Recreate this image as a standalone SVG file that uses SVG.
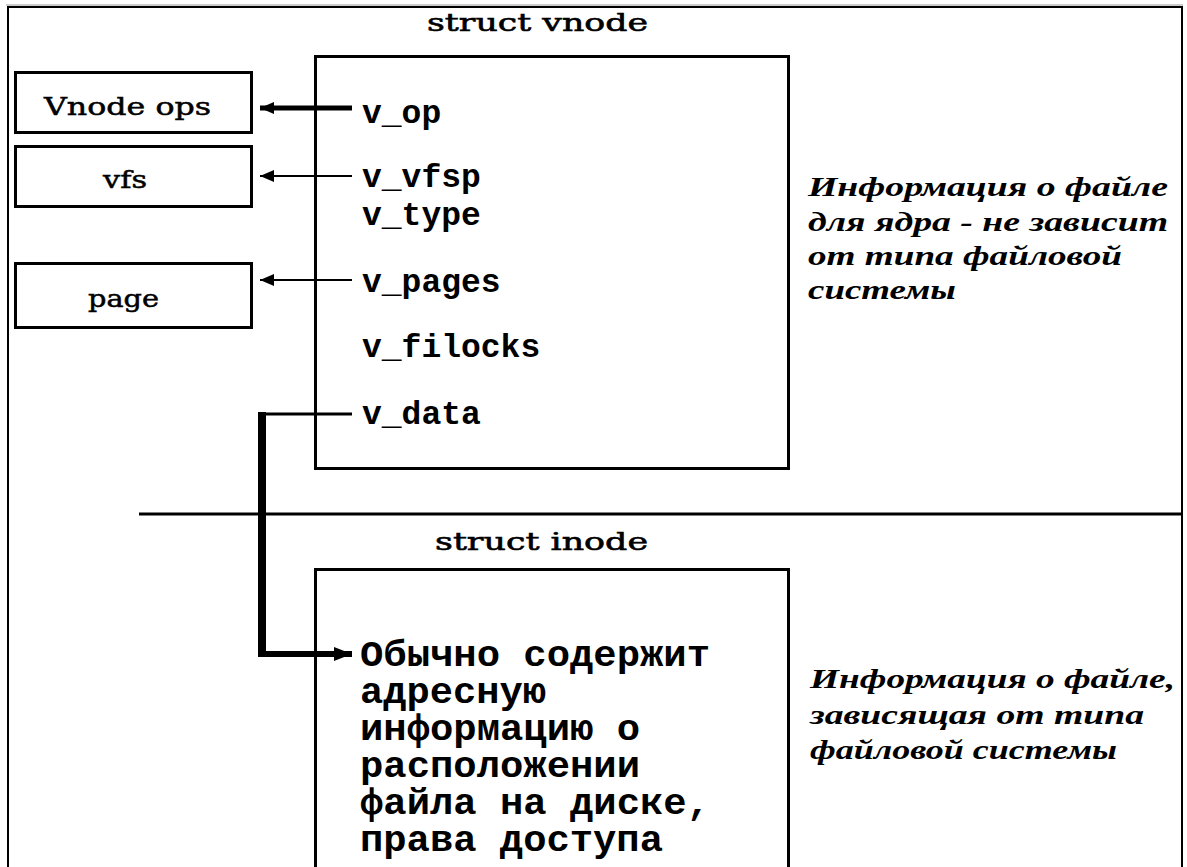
<svg xmlns="http://www.w3.org/2000/svg" width="1187" height="867" viewBox="0 0 1187 867">
<style>
.box{fill:#fff;stroke:#000;stroke-width:3}
.lbl{font-family:"DejaVu Serif","Liberation Serif",serif;font-size:24px;fill:#000;stroke:#000;stroke-width:0.5}
.fld{font-family:"Liberation Mono","Courier New",monospace;font-size:33px;font-weight:bold;fill:#000}
.cyr{font-family:"Liberation Mono","Courier New",monospace;font-size:36px;font-weight:bold;fill:#000}
.ttl{font-family:"DejaVu Serif","Liberation Serif",serif;font-size:25px;fill:#000;stroke:#000;stroke-width:0.6}
.ital{font-family:"Liberation Serif","Times New Roman",serif;font-size:27px;font-style:italic;font-weight:bold;fill:#000}
.ln{fill:none;stroke:#000}
</style>
<defs>
<marker id="ah" markerUnits="userSpaceOnUse" markerWidth="16" markerHeight="14" refX="14" refY="6" orient="auto">
<path d="M0,0 L14,6 L0,12 z" fill="#000"/>
</marker>
<marker id="ah2" markerUnits="userSpaceOnUse" markerWidth="20" markerHeight="16" refX="18" refY="7" orient="auto">
<path d="M0,0 L18,7 L0,14 z" fill="#000"/>
</marker>
</defs>
<rect width="1187" height="867" fill="#fff"/>
<g id="frame">
<line x1="6" y1="5" x2="1183" y2="5" stroke="#999" stroke-width="1"/>
<rect x="8" y="7" width="1174" height="880" fill="none" stroke="#000" stroke-width="2"/>
</g>
<g id="vnode">
<text class="ttl" x="427" y="31" textLength="221" lengthAdjust="spacingAndGlyphs">struct vnode</text>
<rect class="box" x="315.5" y="56.5" width="473" height="412"/>
<text class="fld" x="362" y="123">v_op</text>
<text class="fld" x="362" y="187">v_vfsp</text>
<text class="fld" x="362" y="225">v_type</text>
<text class="fld" x="362" y="292">v_pages</text>
<text class="fld" x="362" y="357">v_filocks</text>
<text class="fld" x="362" y="424">v_data</text>
</g>
<g id="vnode-ops">
<rect class="box" x="15.5" y="72.5" width="236" height="60"/>
<text class="lbl" x="44" y="115" textLength="167" lengthAdjust="spacingAndGlyphs">Vnode ops</text>
</g>
<g id="vfs">
<rect class="box" x="15.5" y="146.5" width="236" height="60"/>
<text class="lbl" x="103" y="188" textLength="44" lengthAdjust="spacingAndGlyphs">vfs</text>
</g>
<g id="page">
<rect class="box" x="15.5" y="263.5" width="236" height="64"/>
<text class="lbl" x="88" y="307" textLength="71" lengthAdjust="spacingAndGlyphs">page</text>
</g>
<g id="divider">
<line x1="139" y1="514" x2="1182" y2="514" stroke="#000" stroke-width="3"/>
</g>
<g id="inode">
<text class="ttl" x="435" y="550" textLength="213" lengthAdjust="spacingAndGlyphs">struct inode</text>
<rect class="box" x="315.5" y="569.5" width="473" height="320"/>
<text class="cyr" x="360" y="666" textLength="350" lengthAdjust="spacingAndGlyphs">Обычно содержит</text>
<text class="cyr" x="360" y="703" textLength="186" lengthAdjust="spacingAndGlyphs">адресную</text>
<text class="cyr" x="360" y="740" textLength="280" lengthAdjust="spacingAndGlyphs">информацию о</text>
<text class="cyr" x="360" y="777" textLength="280" lengthAdjust="spacingAndGlyphs">расположении</text>
<text class="cyr" x="360" y="814" textLength="350" lengthAdjust="spacingAndGlyphs">файла на диске,</text>
<text class="cyr" x="360" y="851" textLength="303" lengthAdjust="spacingAndGlyphs">права доступа</text>
</g>
<g id="note-vnode">
<text class="ital" x="808" y="196" textLength="360" lengthAdjust="spacingAndGlyphs">Информация о файле</text>
<text class="ital" x="808" y="231" textLength="360" lengthAdjust="spacingAndGlyphs">для ядра - не зависит</text>
<text class="ital" x="808" y="265" textLength="314" lengthAdjust="spacingAndGlyphs">от типа файловой</text>
<text class="ital" x="808" y="299" textLength="148" lengthAdjust="spacingAndGlyphs">системы</text>
</g>
<g id="note-inode">
<text class="ital" x="810" y="688" textLength="365" lengthAdjust="spacingAndGlyphs">Информация о файле,</text>
<text class="ital" x="810" y="724" textLength="334" lengthAdjust="spacingAndGlyphs">зависящая от типа</text>
<text class="ital" x="810" y="759" textLength="307" lengthAdjust="spacingAndGlyphs">файловой системы</text>
</g>
<g id="connectors">
<line class="ln" x1="352" y1="108" x2="260" y2="108" stroke-width="5" marker-end="url(#ah)"/>
<line class="ln" x1="352" y1="176" x2="260" y2="176" stroke-width="2" marker-end="url(#ah)"/>
<line class="ln" x1="352" y1="280" x2="260" y2="280" stroke-width="2" marker-end="url(#ah)"/>
<line class="ln" x1="352" y1="414" x2="259" y2="414" stroke-width="3"/>
<line class="ln" x1="262" y1="412" x2="262" y2="657" stroke-width="8"/>
<line class="ln" x1="258" y1="654" x2="352" y2="654" stroke-width="6" marker-end="url(#ah2)"/>
</g>
</svg>
